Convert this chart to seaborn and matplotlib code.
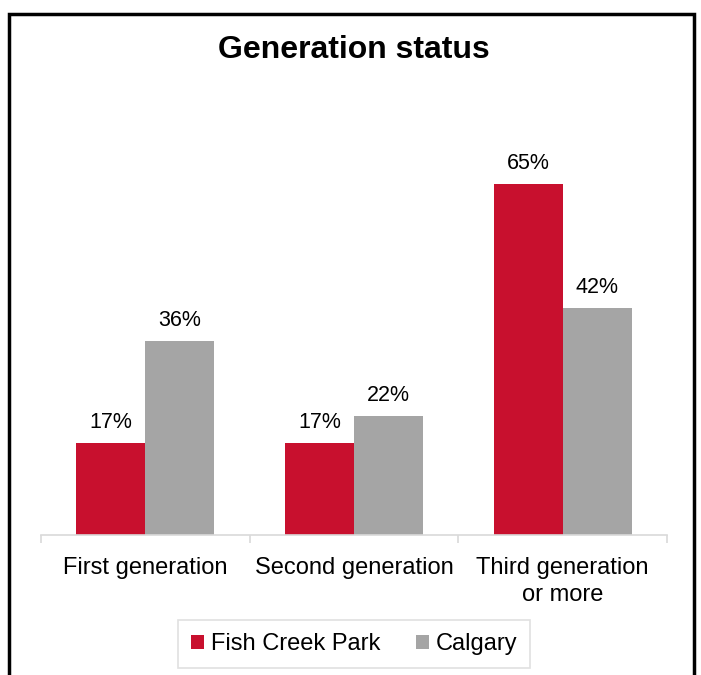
import pandas as pd
import matplotlib.pyplot as plt
import seaborn as sns
from matplotlib.patches import Rectangle

categories = ['First generation', 'Second generation', 'Third generation\nor more']
fish_creek = [17, 17, 65]
calgary = [36, 22, 42]
series = ['Fish Creek Park', 'Calgary']
colors = ['#C8102E', '#A5A5A5']

df = pd.DataFrame({
    'category': categories * 2,
    'value': fish_creek + calgary,
    'area': [series[0]] * 3 + [series[1]] * 3,
})

sns.set_style('white')
plt.rcParams['font.family'] = ['Liberation Sans', 'DejaVu Sans']
plt.rcParams['text.color'] = 'black'
plt.rcParams['xtick.color'] = 'black'

fig = plt.figure(figsize=(7.01, 6.75), dpi=100)
ax = fig.add_axes([41 / 701, 1 - 535 / 675, 626 / 701, 432 / 675])

sns.barplot(data=df, x='category', y='value', hue='area', hue_order=series,
            palette=colors, width=0.66, gap=0, saturation=1, linewidth=0, ax=ax)

for cont in ax.containers:
    ax.bar_label(cont, fmt='%d%%', padding=7, fontsize=15.5, color='black')

ax.set_ylim(0, 80)
ax.set_xlim(-0.5, 2.5)
ax.set_xlabel('')
ax.set_ylabel('')
ax.set_yticks([])
for s in ['top', 'right', 'left']:
    ax.spines[s].set_visible(False)
ax.spines['bottom'].set_color('#D9D9D9')
ax.spines['bottom'].set_linewidth(1.2)

ax.tick_params(axis='x', which='major', length=0, labelsize=17, pad=16,
               labelcolor='black')
for lbl in ax.get_xticklabels():
    lbl.set_linespacing(1.3)
ax.set_xticks([-0.5, 0.5, 1.5, 2.5], minor=True)
ax.tick_params(axis='x', which='minor', bottom=True, length=6, color='#D9D9D9', width=1.2)

leg = ax.legend(loc='center', bbox_to_anchor=(354 / 701, 1 - 644 / 675),
                bbox_transform=fig.transFigure, ncol=2, fontsize=17,
                frameon=True, fancybox=False, handlelength=0.55, handleheight=0.55,
                handletextpad=0.3, columnspacing=1.5, borderpad=0.55,
                borderaxespad=0)
leg.get_frame().set_edgecolor('#D9D9D9')
leg.get_frame().set_linewidth(1.2)

fig.text(354 / 701, 1 - 50 / 675, 'Generation status', ha='center', va='center',
         fontsize=23, fontweight='bold', color='black')

fig.patches.append(Rectangle((9 / 701, -0.02), 685 / 701, 1 - 14 / 675 + 0.02,
                             transform=fig.transFigure, fill=False,
                             edgecolor='black', linewidth=2.5))

fig.savefig('out.png', dpi=100)
